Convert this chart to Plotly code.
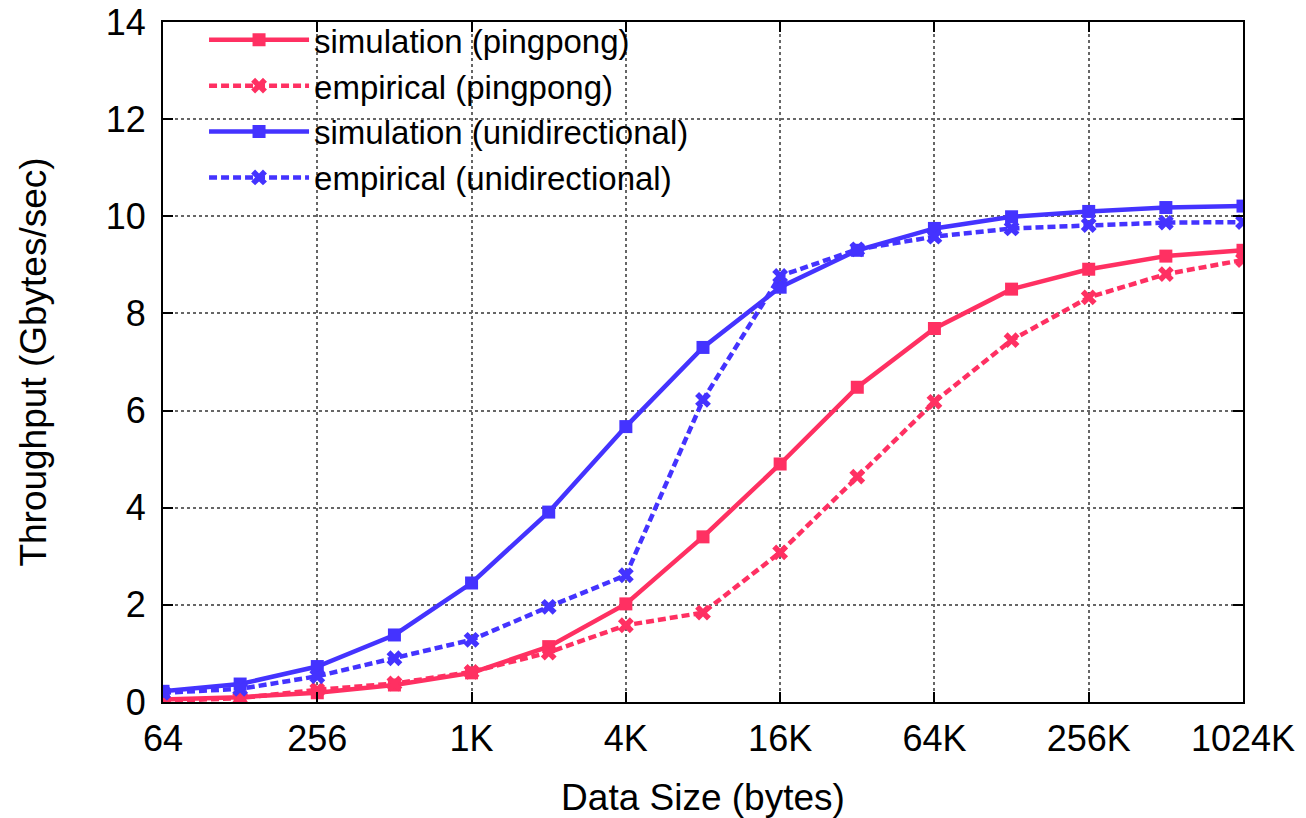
import math
import plotly.graph_objects as go

sizes = [64, 128, 256, 512, 1024, 2048, 4096, 8192, 16384, 32768, 65536,
         131072, 262144, 524288, 1048576]
sim_ping = [0.05, 0.10, 0.19, 0.35, 0.60, 1.14, 2.02, 3.40, 4.90, 6.48, 7.69,
            8.50, 8.91, 9.18, 9.30]
emp_ping = [0.02, 0.08, 0.25, 0.38, 0.62, 1.02, 1.58, 1.84, 3.08, 4.64, 6.18,
            7.45, 8.33, 8.81, 9.10]
sim_uni = [0.22, 0.37, 0.73, 1.38, 2.45, 3.91, 5.67, 7.30, 8.54, 9.30, 9.75,
           9.99, 10.10, 10.18, 10.21]
emp_uni = [0.19, 0.27, 0.53, 0.90, 1.28, 1.96, 2.61, 6.22, 8.77, 9.32, 9.58,
           9.75, 9.82, 9.87, 9.88]

xtick_vals = [64, 256, 1024, 4096, 16384, 65536, 262144, 1048576]
xtick_text = ["64", "256", "1K", "4K", "16K", "64K", "256K", "1024K"]
ytick_vals = [0, 2, 4, 6, 8, 10, 12, 14]

RED = "#ff3062"
BLUE = "#4433ff"
FONT = "Liberation Sans"

series = [
    ("simulation (pingpong)", sim_ping, RED, "solid", "square"),
    ("empirical (pingpong)", emp_ping, RED, "8px,4px", "x"),
    ("simulation (unidirectional)", sim_uni, BLUE, "solid", "square"),
    ("empirical (unidirectional)", emp_uni, BLUE, "8px,4px", "x"),
]

fig = go.Figure()
for name, vals, color, dash, sym in series:
    fig.add_trace(go.Scatter(
        x=sizes, y=vals, name=name, mode="lines+markers",
        line=dict(color=color, width=4.5, dash=dash),
        marker=dict(symbol=sym, size=13 if sym == "square" else 14,
                    color=color, line=dict(width=0)),
    ))

axis_common = dict(
    showline=True, linecolor="black", linewidth=2, mirror="allticks",
    ticks="inside", ticklen=10, tickwidth=1.5, tickcolor="black",
    showgrid=True, gridcolor="#666666", griddash="dot", gridwidth=1.5,
    zeroline=False,
    tickfont=dict(family=FONT, size=36, color="black"),
    title_font=dict(family=FONT, size=37, color="black"),
)

fig.update_layout(
    width=1306, height=818,
    margin=dict(l=163, r=63, t=22, b=116, autoexpand=False),
    paper_bgcolor="white", plot_bgcolor="white",
    xaxis=dict(type="log", range=[math.log10(64), math.log10(1048576)],
               tickvals=xtick_vals, ticktext=xtick_text,
               ticklabelstandoff=4,
               title=dict(text="Data Size (bytes)", standoff=26),
               **axis_common),
    yaxis=dict(range=[0, 14], tickvals=ytick_vals,
               ticklabelstandoff=8,
               title=dict(text="Throughput (Gbytes/sec)", standoff=48),
               **axis_common),
    legend=dict(x=0.038, y=1.015, xanchor="left", yanchor="top",
                bgcolor="rgba(0,0,0,0)", borderwidth=0,
                font=dict(family=FONT, size=33, color="black"),
                itemwidth=100, tracegroupgap=0),
    showlegend=True,
    shapes=[dict(type="rect", xref="paper", yref="paper",
                 x0=0.003, x1=0.733, y0=0.725, y1=0.997,
                 fillcolor="white", line=dict(width=0), layer="between")],
)

fig.write_html("out.html")
